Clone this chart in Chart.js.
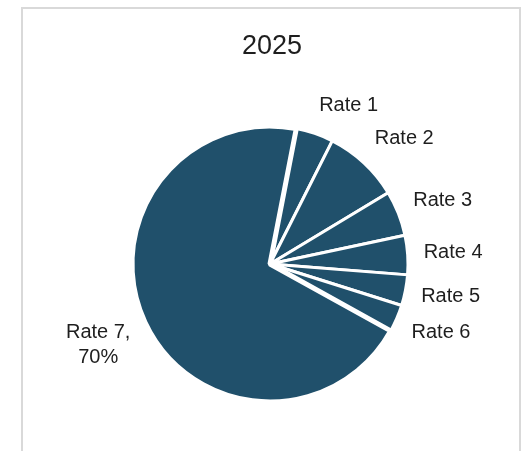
<!DOCTYPE html>
<html>
<head>
<meta charset="utf-8">
<script src="https://cdn.jsdelivr.net/npm/chart.js@4.4.1/dist/chart.umd.min.js"></script>
<style>
  html, body { margin: 0; padding: 0; background: #fff; overflow: hidden; width: 529px; height: 451px; }
  #frame { position: absolute; left: 21px; top: 7px; width: 496px; height: 470px; border: 2px solid #d9d9d9; border-bottom: none; }
  #wrap { position: absolute; left: 0; top: 0; width: 529px; height: 451px; }
</style>
</head>
<body>
<div id="frame"></div>
<div id="wrap"><canvas id="c" width="529" height="451"></canvas></div>
<script>
// Share of each rate, in percent
const chartTitle = '2025';
const categories = ['Rate 1', 'Rate 2', 'Rate 3', 'Rate 4', 'Rate 5', 'Rate 6', 'Rate 7'];
const shares = [4.4, 8.9, 5.3, 4.6, 3.6, 3.2, 70];
const showValue = [false, false, false, false, false, false, true];

const sliceColor = '#20506b';
const textColor = '#1e1e1e';
const labelFont = '20px "Liberation Sans", Arial, sans-serif';
const titleFont = '27px "Liberation Sans", Arial, sans-serif';

function clamp1(v) { return Math.max(-1, Math.min(1, v)); }

// Category labels placed just outside each slice, plus the chart heading
const outsideLabels = {
  id: 'outsideLabels',
  afterDatasetsDraw(chart) {
    const ctx = chart.ctx;
    const meta = chart.getDatasetMeta(0);
    const lh = 25, gap = 16;
    ctx.save();
    ctx.fillStyle = textColor;
    ctx.textAlign = 'center';
    ctx.textBaseline = 'middle';
    ctx.font = labelFont;
    let cxPie = 0;
    meta.data.forEach((arc, i) => {
      const p = arc.getProps(['x', 'y', 'startAngle', 'endAngle', 'outerRadius'], true);
      cxPie = p.x;
      const mid = (p.startAngle + p.endAngle) / 2;
      const cos = Math.cos(mid), sin = Math.sin(mid);
      const ax = p.x + (p.outerRadius + gap) * cos;
      const ay = p.y + (p.outerRadius + gap) * sin;
      const lines = showValue[i]
        ? [categories[i] + ',', shares[i] + '%']
        : [categories[i]];
      const w = Math.max(...lines.map(l => ctx.measureText(l).width));
      const h = lines.length * lh;
      const bx = ax + (w / 2) * clamp1(cos * 3);
      const by = ay + (h / 2) * clamp1(sin * 1.5);
      lines.forEach((l, j) => ctx.fillText(l, bx, by - h / 2 + lh * (j + 0.5)));
    });
    ctx.font = titleFont;
    ctx.fillText(chartTitle, cxPie + 2, 47);
    ctx.restore();
  }
};

new Chart(document.getElementById('c'), {
  type: 'pie',
  data: {
    labels: categories,
    datasets: [{
      data: shares,
      backgroundColor: sliceColor,
      borderColor: '#ffffff',
      borderWidth: [3, 3, 3, 3, 3, 3, 5],
      radius: 138,
      rotation: 11
    }]
  },
  options: {
    responsive: false,
    animation: false,
    layout: { padding: { left: 30, right: 19, top: 100, bottom: 23 } },
    plugins: {
      legend: { display: false },
      tooltip: { enabled: false },
      title: { display: false }
    }
  },
  plugins: [outsideLabels]
});
</script>
</body>
</html>
